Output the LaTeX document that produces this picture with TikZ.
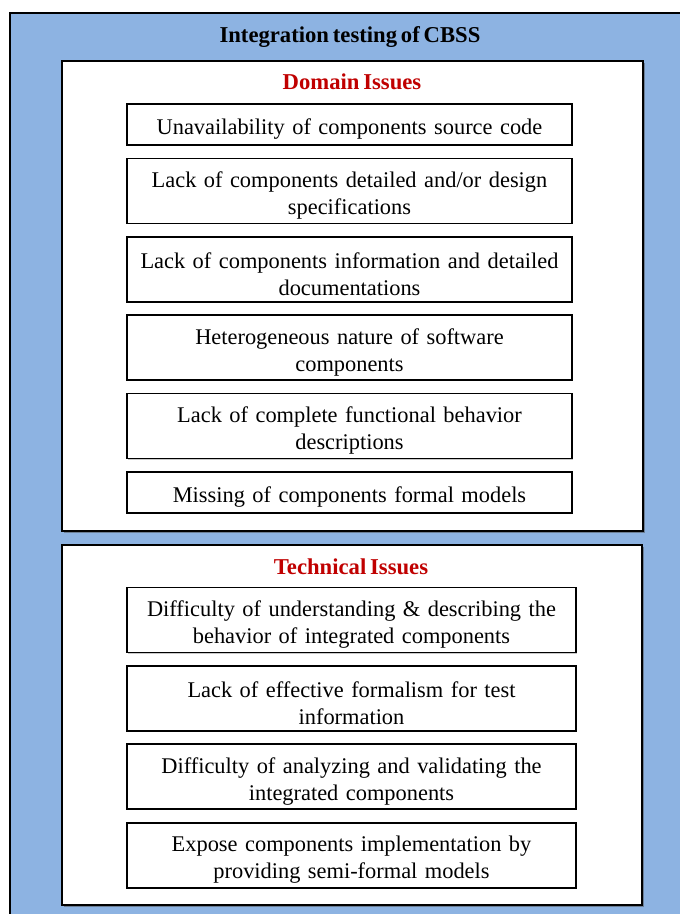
\documentclass[tikz,border=0pt]{standalone}
\usepackage{fontspec}
\setmainfont{Liberation Serif}
\usetikzlibrary{positioning}
\usetikzlibrary{shadows}
\definecolor{panelblue}{HTML}{8DB3E2}
\definecolor{issuered}{HTML}{C00000}
\protected\def\tightwords{\spaceskip=0.17em\relax}

\begin{document}
\begin{tikzpicture}[x=0.75pt, y=-0.75pt,
                node distance=8.75pt,
                outerframe/.style={draw=black, line width=2pt, fill=panelblue},
                groupframe/.style={draw=black, line width=2.2pt, fill=white, drop shadow={shadow xshift=1.5pt, shadow yshift=-1.5pt, fill=black!70, opacity=0.5}},
                headingtext/.style={font=\bfseries\fontsize{17}{20}\selectfont\tightwords},
                groupheading/.style={headingtext, text=issuered},
                issuenode/.style={rectangle, draw=black, line width=1.3pt, fill=white, align=center, inner xsep=2pt, inner ysep=1pt, text height=18.5pt, font=\fontsize{16.8}{20.25}\selectfont\tightwords, drop shadow={shadow xshift=0.8pt, shadow yshift=-0.8pt, fill=black!60, opacity=0.35}},
                domainnode/.style={issuenode, text width=329.75pt},
                technode/.style={issuenode, text width=332.75pt},
                ]
                \useasboundingbox (0,0) rectangle (680,914);

                % background panels
                \draw[outerframe] (10,13) rectangle (700,935);
                \draw[groupframe] (62,61) rectangle (643,531);
                \draw[groupframe] (62,545) rectangle (642,905);

                \node[headingtext] (Title) at (350,37) {Integration testing of CBSS};

                % domain issues
                \node[groupheading] (DH) at (352,82) {Domain Issues};
                \node[domainnode, minimum height=30.75pt] (D1) at (349.5,124.5) {Unavailability of components source code};
                \node[domainnode, minimum height=48.75pt, below=of D1] (D2) {Lack of components detailed and/or design\\specifications};
                \node[domainnode, minimum height=48.75pt, below=of D2] (D3) {Lack of components information and detailed\\documentations};
                \node[domainnode, minimum height=48.75pt, below=of D3] (D4) {Heterogeneous nature of software\\components};
                \node[domainnode, minimum height=48.75pt, below=of D4] (D5) {Lack of complete functional behavior\\descriptions};
                \node[domainnode, minimum height=30.75pt, below=of D5] (D6) {Missing of components formal models};

                % technical issues
                \node[groupheading] (TH) at (351,567) {Technical Issues};
                \node[technode, minimum height=48.75pt] (T1) at (351.5,620) {Difficulty of understanding \& describing the\\behavior of integrated components};
                \node[technode, minimum height=48.75pt, below=of T1] (T2) {Lack of effective formalism for test\\information};
                \node[technode, minimum height=48.75pt, below=of T2] (T3) {Difficulty of analyzing and validating the\\integrated components};
                \node[technode, minimum height=48.75pt, below=of T3] (T4) {Expose components implementation by\\providing semi-formal models};
            \end{tikzpicture}
\end{document}
